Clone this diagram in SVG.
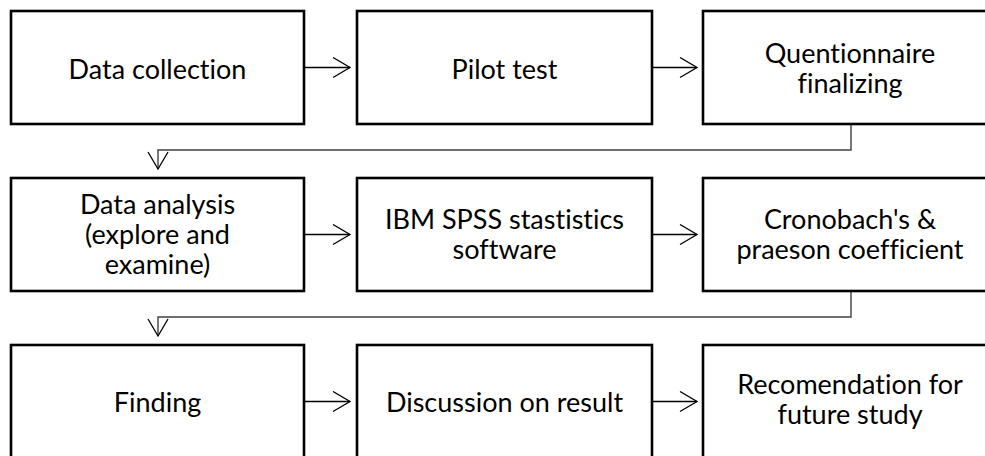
<svg xmlns="http://www.w3.org/2000/svg" width="985" height="456" viewBox="0 0 985 456">
<style>
.box{fill:#fff;stroke:#000;stroke-width:2.6}
.t{font-family:Lato,"Open Sans","Liberation Sans",sans-serif;font-size:27px;fill:#000;text-anchor:middle;font-variant-ligatures:none}
.c{fill:none;stroke:#000;stroke-width:1.3}
.e{fill:none;stroke:#404040;stroke-width:1.4}
.h{fill:none;stroke:#000;stroke-width:1.3}
</style>
<defs>
<marker id="ah" viewBox="0 0 20 22" refX="18" refY="11" markerWidth="20" markerHeight="22" markerUnits="userSpaceOnUse" orient="auto">
<path d="M1,1 L18,11 L1,21" class="h"/>
</marker>
</defs>
<g id="connectors">
<path class="c" d="M304,67.5 H350" marker-end="url(#ah)"/>
<path class="c" d="M652,67.5 H697" marker-end="url(#ah)"/>
<path class="e" d="M851,124 V150 H158 V169" marker-end="url(#ah)"/>
<path class="c" d="M304,234.5 H350" marker-end="url(#ah)"/>
<path class="c" d="M652,234.5 H697" marker-end="url(#ah)"/>
<path class="e" d="M851,291 V317 H158 V336" marker-end="url(#ah)"/>
<path class="c" d="M304,401.5 H350" marker-end="url(#ah)"/>
<path class="c" d="M652,401.5 H697" marker-end="url(#ah)"/>
</g>
<g id="n1"><rect class="box" x="11" y="11" width="293" height="113"/><text class="t" x="157.5" y="78.5">Data collection</text></g>
<g id="n2"><rect class="box" x="357" y="11" width="295" height="113"/><text class="t" x="504.5" y="78.5">Pilot test</text></g>
<g id="n3"><rect class="box" x="703" y="11" width="295" height="113"/><text class="t" x="850" y="63">Quentionnaire</text><text class="t" x="850" y="93">finalizing</text></g>
<g id="n4"><rect class="box" x="11" y="178" width="293" height="113"/><text class="t" x="157.5" y="213.5">Data analysis</text><text class="t" x="157.5" y="243.5">(explore and</text><text class="t" x="157.5" y="273.5">examine)</text></g>
<g id="n5"><rect class="box" x="357" y="178" width="295" height="113"/><text class="t" x="504.5" y="229">IBM SPSS stastistics</text><text class="t" x="504.5" y="259">software</text></g>
<g id="n6"><rect class="box" x="703" y="178" width="295" height="113"/><text class="t" x="850" y="229">Cronobach's &amp;</text><text class="t" x="850" y="259">praeson coefficient</text></g>
<g id="n7"><rect class="box" x="11" y="345" width="293" height="113"/><text class="t" x="157.5" y="412">Finding</text></g>
<g id="n8"><rect class="box" x="357" y="345" width="295" height="113"/><text class="t" x="504.5" y="412">Discussion on result</text></g>
<g id="n9"><rect class="box" x="703" y="345" width="295" height="113"/><text class="t" x="850" y="394">Recomendation for</text><text class="t" x="850" y="424">future study</text></g>
</svg>
